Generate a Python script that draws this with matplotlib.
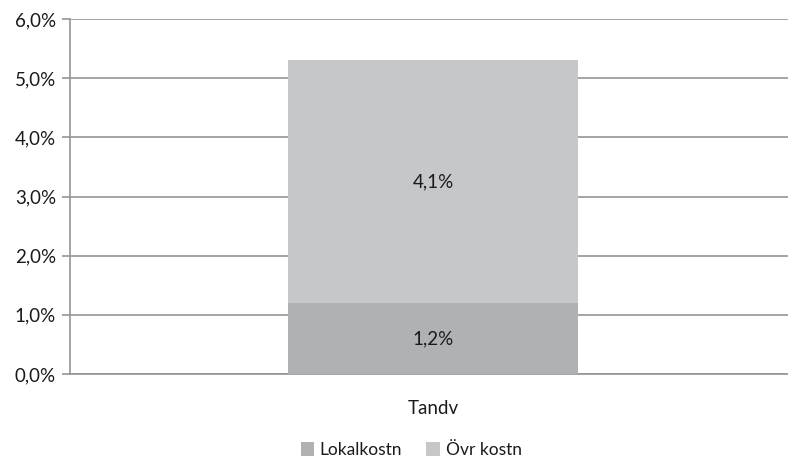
import matplotlib
matplotlib.use("Agg")
import matplotlib.pyplot as plt
from matplotlib.ticker import FuncFormatter

plt.rcParams['font.family'] = ['Lato', 'DejaVu Sans']

# Kostnadsandelar (%) för tandvården
categories = ['Tandv']
lokalkostn = [1.2]
ovr_kostn = [4.1]
series_names = ['Lokalkostn', 'Övr kostn']
colors = ['#b0b1b3', '#c6c7c9']

fig = plt.figure(figsize=(7.88, 4.61), dpi=100)
ax = fig.add_axes([70 / 788, 87 / 461, 726 / 788, 355 / 461])

x = range(len(categories))
b1 = ax.bar(x, lokalkostn, width=0.4, color=colors[0], label=series_names[0], zorder=3)
b2 = ax.bar(x, ovr_kostn, width=0.4, bottom=lokalkostn, color=colors[1],
            label=series_names[1], zorder=3)

# värdeetiketter mitt i staplarna
for bars, vals, base in [(b1, lokalkostn, [0] * len(lokalkostn)), (b2, ovr_kostn, lokalkostn)]:
    for rect, v, b in zip(bars, vals, base):
        ax.text(rect.get_x() + rect.get_width() / 2, b + v / 2,
                f'{v:.1f}%'.replace('.', ','), ha='center', va='center',
                fontsize=13.5, color='#1a1a1a', zorder=4)

ax.set_xlim(-0.5, 0.5)
ax.set_ylim(0, 6)
ax.set_yticks([0, 1, 2, 3, 4, 5, 6])
ax.yaxis.set_major_formatter(FuncFormatter(lambda v, p: f'{v:.1f}%'.replace('.', ',')))
ax.set_xticks(list(x))
ax.set_xticklabels(categories)

ax.grid(axis='y', color='#959595', linewidth=1.2, zorder=0)
for s in ['top', 'right']:
    ax.spines[s].set_visible(False)
ax.spines['left'].set_color('#959595')
ax.spines['left'].set_linewidth(1.2)
ax.spines['bottom'].set_color('#959595')
ax.spines['bottom'].set_linewidth(1.2)
ax.tick_params(axis='y', length=6, color='#959595', width=1.2, labelsize=13.5,
               labelcolor='#1a1a1a', pad=4)
ax.tick_params(axis='x', length=0, labelsize=13.5, labelcolor='#1a1a1a', pad=19)

fig.legend(loc='center', bbox_to_anchor=(411 / 788, 1 - 450 / 461), ncol=2,
           frameon=False, fontsize=12.5, handlelength=0.8, handleheight=0.8,
           handletextpad=0.3, columnspacing=1.4, labelcolor='#1a1a1a',
           borderpad=0.2)

fig.savefig('out.png', dpi=100)
